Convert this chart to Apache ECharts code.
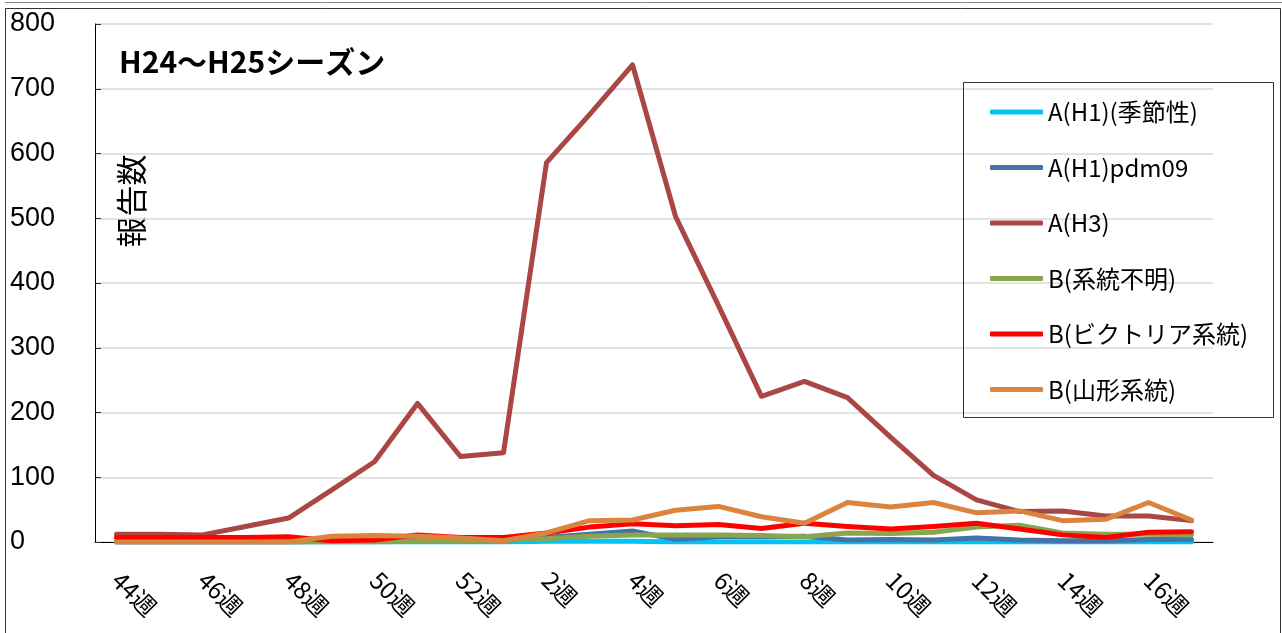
<!DOCTYPE html>
<html>
<head>
<meta charset="utf-8">
<script src="https://cdn.jsdelivr.net/npm/echarts@6/dist/echarts.min.js"></script>
<style>
  html, body { margin: 0; padding: 0; background: #fff; }
  #main { width: 1282px; height: 633px; }
</style>
</head>
<body>
<div id="main"></div>
<script>
// 週（H24年44週〜H25年17週）
const weeks = [
  "44週", "45週", "46週", "47週", "48週", "49週", "50週", "51週", "52週",
  "1週", "2週", "3週", "4週", "5週", "6週", "7週", "8週", "9週", "10週",
  "11週", "12週", "13週", "14週", "15週", "16週", "17週"
];
const yTicks = [0, 100, 200, 300, 400, 500, 600, 700, 800];

const seriesNames = [
  "A(H1)(季節性)", "A(H1)pdm09", "A(H3)",
  "B(系統不明)", "B(ビクトリア系統)", "B(山形系統)"
];
const colors = ["#00C4F4", "#4572A7", "#AA4643", "#89A54E", "#FF0000", "#DB843D"];

// 報告数
const h1Seasonal = [0, 0, 0, 0, 0, 0, 0, 0, 0, 0, 1, 1, 1, 0, 0, 0, 0, 0, 0, 0, 0, 0, 0, 0, 0, 0];
const h1pdm09 = [0, 0, 0, 0, 0, 1, 2, 4, 4, 3, 7, 12, 17, 4, 8, 8, 9, 3, 4, 3, 6, 3, 2, 2, 4, 4];
const h3 = [12, 12, 11, 24, 37, 80, 124, 214, 132, 138, 586, 660, 737, 503, 365, 225, 248, 223, 162, 103, 65, 47, 48, 40, 40, 33];
const bUnknown = [0, 0, 0, 0, 0, 0, 0, 1, 2, 3, 5, 9, 11, 11, 11, 10, 8, 14, 13, 15, 23, 26, 14, 12, 12, 11];
const bVictoria = [7, 7, 7, 7, 8, 2, 3, 11, 7, 7, 14, 23, 28, 25, 27, 21, 29, 24, 20, 24, 29, 20, 11, 7, 15, 16];
const bYamagata = [0, 0, 0, 0, 0, 9, 10, 9, 6, 2, 14, 33, 34, 49, 55, 39, 29, 61, 54, 61, 45, 48, 33, 35, 61, 34];

const allData = [h1Seasonal, h1pdm09, h3, bUnknown, bVictoria, bYamagata];

const jpFont = '"Noto Sans CJK JP", "Noto Sans", sans-serif';

let myChart = echarts.init(document.getElementById("main"));
let option = {
  animation: false,
  color: colors,
  title: {
    text: "H24〜H25シーズン",
    left: 114,
    top: 42,
    textStyle: { fontFamily: jpFont, fontSize: 30, fontWeight: "bold", color: "#000" }
  },
  grid: { left: 95, right: 69, top: 24, bottom: 91 },
  legend: {
    data: seriesNames,
    orient: "vertical",
    left: 985,
    top: 95,
    itemGap: 31.5,
    itemWidth: 53,
    itemHeight: 5,
    icon: "roundRect",
    textStyle: { fontFamily: jpFont, fontSize: 24, color: "#000", lineHeight: 24 }
  },
  xAxis: {
    type: "category",
    data: weeks,
    boundaryGap: true,
    axisLine: { lineStyle: { color: "#000", width: 1 } },
    axisTick: { inside: true, interval: 0, length: 5, lineStyle: { color: "#333" } },
    axisLabel: {
      interval: 1,
      rotate: -45,
      margin: 34,
      fontFamily: jpFont,
      fontSize: 24,
      color: "#000"
    },
    splitLine: { show: false }
  },
  yAxis: {
    type: "value",
    min: yTicks[0],
    max: yTicks[yTicks.length - 1],
    interval: 100,
    axisLine: { show: true, lineStyle: { color: "#000", width: 1 } },
    axisTick: { show: true, inside: true, length: 6, lineStyle: { color: "#333" } },
    axisLabel: {
      align: "left",
      margin: 85,
      fontFamily: '"Liberation Sans", Arial, sans-serif',
      fontSize: 27,
      color: "#000"
    },
    splitLine: { lineStyle: { color: "#D9D9D9", width: 1.5 } }
  },
  graphic: [
    { type: "line", shape: { x1: 5, y1: 2.5, x2: 1282, y2: 2.5 }, style: { stroke: "#888", lineWidth: 1 } },
    { type: "rect", shape: { x: 5.5, y: 8.5, width: 1275, height: 640 }, style: { fill: "none", stroke: "#333", lineWidth: 1 } },
    { type: "rect", shape: { x: 963.5, y: 82.5, width: 310, height: 335 }, style: { fill: "none", stroke: "#333", lineWidth: 1 }, z: 5 },
    {
      type: "text",
      x: 131,
      y: 201,
      rotation: Math.PI / 2,
      style: {
        text: "報告数",
        fontFamily: jpFont,
        fontSize: 31,
        fill: "#000",
        align: "center",
        verticalAlign: "middle"
      }
    }
  ],
  series: seriesNames.map((name, i) => ({
    name: name,
    type: "line",
    data: allData[i],
    symbol: "none",
    showSymbol: false,
    lineStyle: { width: 5, cap: "round", join: "round" }
  }))
};
option && myChart.setOption(option);
</script>
</body>
</html>
